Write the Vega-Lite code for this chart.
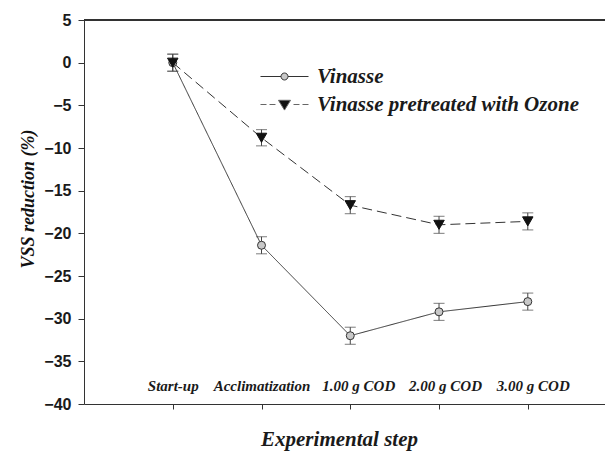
{
  "$schema": "https://vega.github.io/schema/vega-lite/v6.json",
  "autosize": "none",
  "width": 521,
  "height": 384,
  "padding": {"left": 84, "top": 20, "right": 0, "bottom": 47},
  "background": "white",
  "config": {"view": {"stroke": null}},
  "data": {
    "values": [
      {"idx": 1, "step": "Start-up", "series": "Vinasse", "value": 0, "lo": -1, "hi": 1},
      {"idx": 2, "step": "Acclimatization", "series": "Vinasse", "value": -21.4, "lo": -22.4, "hi": -20.4},
      {"idx": 3, "step": "1.00 g COD", "series": "Vinasse", "value": -32.0, "lo": -33.0, "hi": -31.0},
      {"idx": 4, "step": "2.00 g COD", "series": "Vinasse", "value": -29.2, "lo": -30.2, "hi": -28.2},
      {"idx": 5, "step": "3.00 g COD", "series": "Vinasse", "value": -28.0, "lo": -29.0, "hi": -27.0},
      {"idx": 1, "step": "Start-up", "series": "Vinasse pretreated with Ozone", "value": 0, "lo": -1, "hi": 1},
      {"idx": 2, "step": "Acclimatization", "series": "Vinasse pretreated with Ozone", "value": -8.8, "lo": -9.75, "hi": -7.85},
      {"idx": 3, "step": "1.00 g COD", "series": "Vinasse pretreated with Ozone", "value": -16.7, "lo": -17.7, "hi": -15.7},
      {"idx": 4, "step": "2.00 g COD", "series": "Vinasse pretreated with Ozone", "value": -19.0, "lo": -20.0, "hi": -18.0},
      {"idx": 5, "step": "3.00 g COD", "series": "Vinasse pretreated with Ozone", "value": -18.6, "lo": -19.6, "hi": -17.6}
    ]
  },
  "encoding": {
    "x": {
      "field": "idx", "type": "quantitative",
      "scale": {"domain": [0, 5.87], "nice": false, "zero": false},
      "axis": {
        "title": "Experimental step",
        "titleFont": "Liberation Serif", "titleFontSize": 21, "titleFontStyle": "italic", "titleFontWeight": "bold", "titleColor": "#1a1a1a",
        "titleX": 255, "titleAlign": "center",
        "titleY": 41, "titleBaseline": "alphabetic",
        "values": [1, 2, 3, 4, 5],
        "labelExpr": "['', 'Start-up', 'Acclimatization', '1.00 g COD', '2.00 g COD', '3.00 g COD'][datum.value]",
        "labelFont": "Liberation Serif", "labelFontSize": 15, "labelFontStyle": "italic", "labelFontWeight": "bold", "labelColor": "#1a1a1a",
        "labelBaseline": "alphabetic", "labelPadding": -19, "labelOverlap": false, "labelFlush": false,
        "labelOffset": {"expr": "datum.value == 3 ? 8 : datum.value == 4 ? 6 : datum.value == 5 ? 5 : 0"},
        "tickSize": 5, "tickColor": "#333", "domainColor": "#333", "grid": false
      }
    },
    "y": {
      "field": "value", "type": "quantitative",
      "scale": {"domain": [-40, 5], "nice": false, "zero": false},
      "axis": {
        "title": "VSS reduction (%)",
        "titleFont": "Liberation Serif", "titleFontSize": 18, "titleFontStyle": "italic", "titleFontWeight": "bold", "titleColor": "#111111",
        "titleX": -51, "titleY": 178.5, "titleAlign": "center", "titleBaseline": "alphabetic", "titleAngle": -90,
        "values": [5, 0, -5, -10, -15, -20, -25, -30, -35, -40],
        "labelFont": "Liberation Sans", "labelFontSize": 16, "labelFontWeight": "bold", "labelColor": "#1a1a1a",
        "labelPadding": 7, "tickSize": 6, "tickColor": "#333", "domainColor": "#333", "grid": false
      }
    }
  },
  "layer": [
    {
      "mark": {"type": "rule", "color": "#333", "strokeWidth": 1},
      "encoding": {"x": null, "y": {"datum": 5}}
    },
    {
      "mark": {"type": "line", "color": "#333", "strokeWidth": 1},
      "encoding": {
        "detail": {"field": "series"},
        "strokeDash": {"field": "series", "type": "nominal", "scale": {"domain": ["Vinasse", "Vinasse pretreated with Ozone"], "range": [[1, 0], [10, 5]]}, "legend": null}
      }
    },
    {
      "mark": {"type": "rule", "color": "#444", "strokeWidth": 1},
      "encoding": {"y": {"field": "lo", "type": "quantitative"}, "y2": {"field": "hi"}}
    },
    {
      "mark": {"type": "tick", "color": "#444", "thickness": 1, "size": 11, "orient": "horizontal"},
      "encoding": {"y": {"field": "lo", "type": "quantitative"}}
    },
    {
      "mark": {"type": "tick", "color": "#444", "thickness": 1, "size": 11, "orient": "horizontal"},
      "encoding": {"y": {"field": "hi", "type": "quantitative"}}
    },
    {
      "mark": {"type": "point", "filled": true, "opacity": 1, "strokeWidth": 1},
      "encoding": {
        "shape": {"field": "series", "type": "nominal", "scale": {"domain": ["Vinasse", "Vinasse pretreated with Ozone"], "range": ["circle", "triangle-down"]}, "legend": null},
        "fill": {"field": "series", "type": "nominal", "scale": {"domain": ["Vinasse", "Vinasse pretreated with Ozone"], "range": ["#c8c8c8", "#111111"]}, "legend": null},
        "stroke": {"field": "series", "type": "nominal", "scale": {"domain": ["Vinasse", "Vinasse pretreated with Ozone"], "range": ["#333333", "#111111"]}, "legend": null},
        "size": {"field": "series", "type": "nominal", "scale": {"domain": ["Vinasse", "Vinasse pretreated with Ozone"], "range": [64, 110]}, "legend": null}
      }
    },
    {
      "transform": [{"filter": "false"}],
      "mark": {"type": "point", "filled": true, "opacity": 1, "strokeWidth": 1},
      "encoding": {
        "fill": {"field": "series", "type": "nominal", "scale": {"domain": ["Vinasse", "Vinasse pretreated with Ozone"], "range": ["#c8c8c8", "#111111"]}},
        "stroke": {"field": "series", "type": "nominal", "scale": {"domain": ["Vinasse", "Vinasse pretreated with Ozone"], "range": ["#333333", "#666666"]}},
        "shape": {
          "field": "series", "type": "nominal",
          "scale": {
            "domain": ["Vinasse", "Vinasse pretreated with Ozone"],
            "range": [
              "M-3.43,0H-0.5M0.5,0H3.43M-0.5,0A0.5,0.5 0 1 0 0.5,0A0.5,0.5 0 1 0 -0.5,0Z",
              "M-3.43,0H-2.57M-2.14,0H-1.29M1.29,0H2.14M2.57,0H3.43M-0.86,-0.6L0.86,-0.6L0,0.8Z"
            ]
          },
          "legend": {
            "title": null,
            "orient": "none",
            "legendX": 190,
            "legendY": 46,
            "padding": 0,
            "symbolSize": 196,
            "symbolStrokeWidth": 1,
            "symbolOpacity": 1,
            "rowPadding": 6,
            "labelOffset": 22,
            "labelFont": "Liberation Serif", "labelFontSize": 21, "labelFontStyle": "italic", "labelFontWeight": "bold", "labelColor": "#1a1a1a",
            "labelLimit": 400
          }
        }
      }
    }
  ],
  "resolve": {
    "scale": {"shape": "independent", "fill": "independent", "stroke": "independent"},
    "legend": {"shape": "independent", "fill": "independent", "stroke": "independent"}
  }
}
